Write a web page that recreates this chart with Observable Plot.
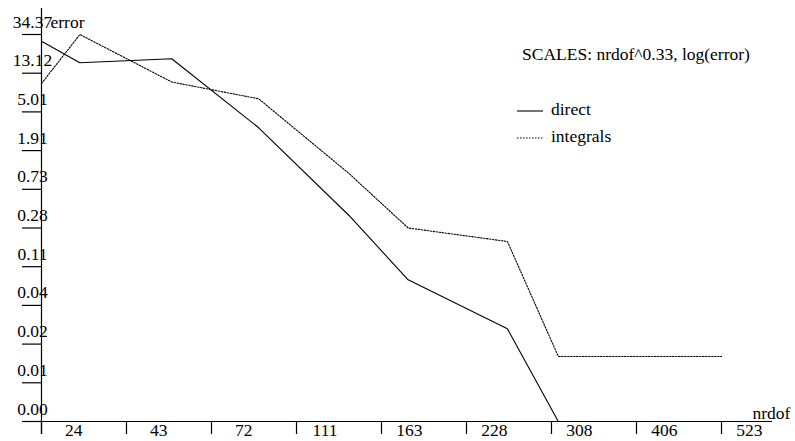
<!DOCTYPE html>
<html>
<head>
<meta charset="utf-8">
<script src="https://cdn.jsdelivr.net/npm/d3@7"></script>
<script src="https://cdn.jsdelivr.net/npm/@observablehq/plot@0.6"></script>
<style>
  html, body { margin: 0; padding: 0; background: #fff; overflow: hidden; }
  #chart svg { display: block; }
</style>
</head>
<body>
<div id="chart"></div>
<script>
// ---- data ----
const nrdof = [24, 32, 58, 93, 142, 182, 265, 316, 523];
const directError = [29.09, 17.00, 18.78, 3.373, 0.3805, 0.0768, 0.02271, 0.00226];
const integralsError = [10.16, 34.37, 10.54, 6.94, 1.082, 0.2788, 0.1992, 0.0114, 0.0114];
const seriesNames = ["direct", "integrals"];
const xTickLabels = ["24", "43", "72", "111", "163", "228", "308", "406", "523"];
const yTickLabels = ["34.37", "13.12", "5.01", "1.91", "0.73", "0.28", "0.11", "0.04", "0.02", "0.01", "0.00"];
const xDomain = [24, 523];
const yDomain = [0.00226, 34.37];
const exponent = 0.33;
const xTitle = "nrdof";
const yTitle = "error";
const legendTitle = "SCALES: nrdof^0.33, log(error)";

// ---- derived tables ----
const rows = [];
directError.forEach((v, i) => rows.push({series: seriesNames[0], nrdof: nrdof[i], error: v}));
integralsError.forEach((v, i) => rows.push({series: seriesNames[1], nrdof: nrdof[i], error: v}));

// tick values evenly spaced in the transformed scales
const c0 = Math.pow(xDomain[0], exponent), c1 = Math.pow(xDomain[1], exponent);
const xTickValues = xTickLabels.map((_, i) => Math.pow(c0 + (c1 - c0) * i / (xTickLabels.length - 1), 1 / exponent));
const l0 = Math.log(yDomain[1]), l1 = Math.log(yDomain[0]);
const yTickValues = yTickLabels.map((_, i) => Math.exp(l0 + (l1 - l0) * i / (yTickLabels.length - 1)));

const FONT = "'Liberation Serif', 'Times New Roman', 'DejaVu Serif', serif";
const FS = 17.5;

const legendMark = (index, scales, values, dims) => {
  const g = d3.create("svg:g")
    .attr("font-family", FONT).attr("font-size", FS).attr("fill", "#000")
    .attr("text-anchor", "start");
  const x0 = dims.width - dims.marginRight;
  g.append("text").attr("x", x0 - 199).attr("y", 60).text(legendTitle);
  seriesNames.forEach((name, i) => {
    const y = 111 + i * 27;
    g.append("line")
      .attr("x1", x0 - 204).attr("x2", x0 - 178)
      .attr("y1", y).attr("y2", y)
      .attr("stroke", "#000").attr("stroke-width", 1.1)
      .attr("stroke-dasharray", i === 0 ? null : "1.5,1.5");
    g.append("text").attr("x", x0 - 170).attr("y", y + 4).text(name);
  });
  return g.node();
};

const chart = Plot.plot({
  width: 795,
  height: 441,
  marginLeft: 41,
  marginRight: 74,
  marginTop: 34,
  marginBottom: 20,
  style: {fontFamily: FONT, fontSize: FS + "px", background: "#fff", color: "#000"},
  x: {type: "pow", exponent, domain: xDomain, axis: null},
  y: {type: "log", domain: yDomain, axis: null},
  marks: [
    // axis lines
    Plot.ruleX([xDomain[0]], {stroke: "#000", strokeWidth: 1.2, insetTop: -26, insetBottom: -13}),
    Plot.ruleY([yDomain[0]], {stroke: "#000", strokeWidth: 1.2, insetLeft: -19, insetRight: -51}),
    // y ticks
    Plot.ruleY(yTickValues, {x1: xDomain[0], x2: xDomain[0], insetLeft: -19, stroke: "#000", strokeWidth: 1.2}),
    Plot.text(yTickValues, {x: xDomain[0], y: d => d, text: (d, i) => yTickLabels[i],
      textAnchor: "middle", lineAnchor: "bottom", dx: -9, dy: -7, fill: "#000", fontSize: FS, fontFamily: FONT}),
    // x ticks
    Plot.ruleX(xTickValues, {y1: yDomain[0], y2: yDomain[0], insetBottom: -13, stroke: "#000", strokeWidth: 1.2}),
    Plot.text(xTickValues, {x: d => d, y: yDomain[0], text: (d, i) => xTickLabels[i],
      textAnchor: "end", lineAnchor: "bottom", dx: 41, dy: 14, fill: "#000", fontSize: FS, fontFamily: FONT}),
    // axis titles
    Plot.text([yTitle], {frameAnchor: "top-left", textAnchor: "start", lineAnchor: "bottom", dx: 9, dy: -7, fill: "#000", fontSize: FS, fontFamily: FONT}),
    Plot.text([xTitle], {frameAnchor: "bottom-right", textAnchor: "start", lineAnchor: "bottom", dx: 31, dy: -3, fill: "#000", fontSize: FS, fontFamily: FONT}),
    // data lines
    Plot.line(rows.filter(d => d.series === seriesNames[0]), {x: "nrdof", y: "error", stroke: "#000", strokeWidth: 1.1}),
    Plot.line(rows.filter(d => d.series === seriesNames[1]), {x: "nrdof", y: "error", stroke: "#000", strokeWidth: 1.1, strokeDasharray: "1.5,1.5"}),
    legendMark
  ]
});
document.getElementById("chart").appendChild(chart);
</script>
</body>
</html>
